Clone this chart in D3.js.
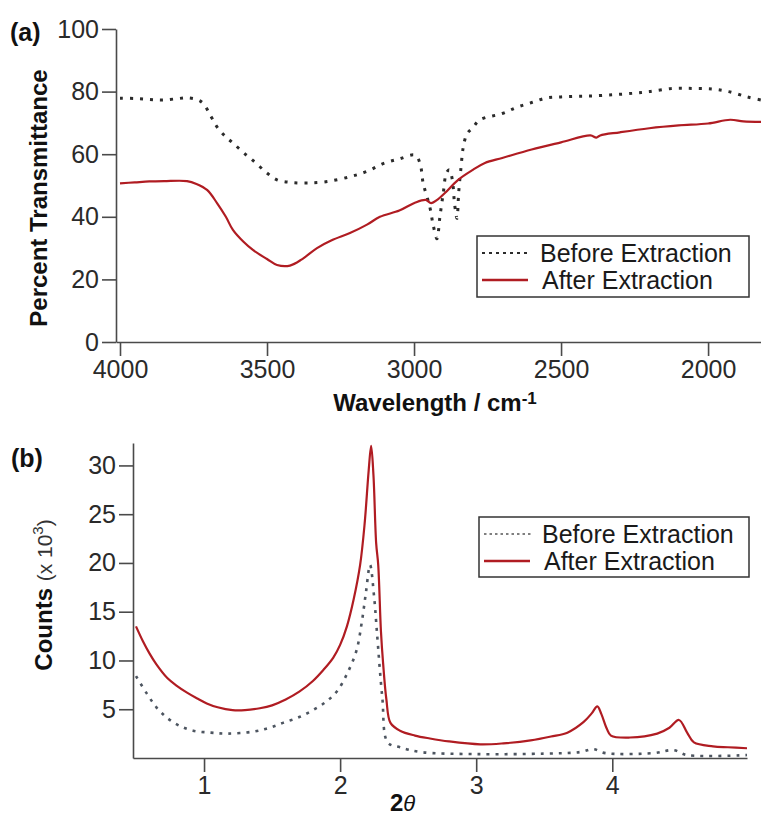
<!DOCTYPE html>
<html>
<head>
<meta charset="utf-8">
<script src="https://cdn.jsdelivr.net/npm/d3@7"></script>
<style>
  body { margin: 0; background: #fff; }
  svg { display: block; font-family: "Liberation Sans", Arial, sans-serif; }
  .tick text { fill: #2a2a2a; }
</style>
</head>
<body>
<div class="canvas"></div>
<script>
// panel (a) - IR spectra
const irWaveBefore = [4000,3950,3900,3854,3800,3772,3740,3718,3690,3670,3640,3616,3580,3548,3500,3466,3420,3364,3300,3218,3160,3105,3050,2997,2980,2969,2946,2935,2922,2912,2900,2890,2880,2870,2862,2854,2848,2840,2833,2820,2800,2776,2700,2650,2600,2548,2500,2450,2400,2323,2250,2200,2119,2050,1983,1930,1867,1820];
const irBefore = [77.9,77.8,77.5,77.3,77.8,78,77.5,76.3,72,68.7,65.5,63.6,60.5,58,54,51.8,51,50.8,51.2,52.8,54.5,57,58.5,59.7,57.2,50.8,43,37.4,33,40,48,54,55,52,44,39.5,48,56,62,66.5,68.5,71,73,75,76.5,78,78.3,78.5,78.6,79,79.5,80,81,81,80.8,80,78.3,77.3];
const irWaveAfter = [4000,3950,3900,3850,3772,3740,3704,3670,3640,3616,3580,3548,3500,3466,3422,3380,3330,3280,3218,3160,3116,3050,2997,2960,2942,2920,2895,2850,2800,2759,2700,2600,2500,2400,2380,2367,2300,2200,2100,2000,1925,1880,1820];
const irAfter = [50.7,51,51.3,51.4,51.4,50.5,48.6,44.4,40,35.8,32,29.4,26.5,24.6,24.4,26.5,30,32.5,34.8,37.5,40,42,44.5,45.4,44.4,45.5,47.6,51.8,55,57.2,58.8,61.5,63.8,66,65.3,66,67,68.3,69.2,69.8,71,70.5,70.3];
const irTicksX = [4000,3500,3000,2500,2000];
const irTicksY = [0,20,40,60,80,100];

// panel (b) - XRD
const xrdThetaBefore = [0.5,0.58,0.65,0.73,0.82,0.92,1.05,1.17,1.36,1.48,1.58,1.7,1.8,1.9,1.98,2.05,2.12,2.16,2.19,2.22,2.25,2.27,2.31,2.35,2.44,2.6,3.0,3.5,3.76,3.86,3.95,4.3,4.45,4.55,4.99];
const xrdBefore = [8.4,6.6,5.2,4.1,3.3,2.8,2.6,2.5,2.7,3.1,3.6,4.2,4.9,5.8,6.9,8.6,11.0,14,17,19.8,16.5,13,6.2,1.6,1.1,0.6,0.4,0.45,0.6,0.9,0.5,0.5,0.8,0.3,0.3];
const xrdThetaAfter = [0.5,0.55,0.6,0.65,0.73,0.8,0.875,0.95,1.02,1.1,1.21,1.3,1.41,1.5,1.6,1.7,1.8,1.875,1.95,2.0,2.05,2.1,2.147,2.18,2.21,2.228,2.245,2.265,2.28,2.3,2.316,2.34,2.37,2.44,2.55,2.66,2.8,3.03,3.2,3.4,3.55,3.67,3.79,3.85,3.89,3.92,3.96,3.99,4.13,4.33,4.42,4.49,4.55,4.6,4.74,4.85,4.99];
const xrdAfter = [13.5,12,10.7,9.6,8.2,7.4,6.7,6.1,5.6,5.2,4.9,4.9,5.1,5.4,6.0,6.8,7.9,9.0,10.3,11.6,13.5,16.3,19.8,24,29.5,32,29,22,19.8,13,9.7,6,3.6,2.8,2.3,2.0,1.7,1.4,1.5,1.8,2.2,2.6,3.7,4.6,5.3,4.5,3.0,2.3,2.1,2.5,3.1,3.9,2.6,1.6,1.2,1.1,1.0];
const xrdTicksX = [1,2,3,4];
const xrdTicksY = [5,10,15,20,25,30];

const seriesNames = ['Before Extraction', 'After Extraction'];

const svg = d3.select('.canvas')
  .append('svg')
    .attr('width', 761)
    .attr('height', 816);

const axisColor = '#4a4a4a';
const redColor = '#b01c22';

function styleAxis(g) {
  g.select('.domain').attr('stroke', axisColor).attr('stroke-width', 1.6);
  g.selectAll('.tick line').attr('stroke', axisColor).attr('stroke-width', 1.6);
  g.selectAll('.tick text').attr('font-size', 25).attr('font-family', '"Liberation Sans", Arial, sans-serif');
}

// ---------- panel (a) ----------
const xA = d3.scaleLinear().domain([4013.6, 1820]).range([116, 761]);
const yA = d3.scaleLinear().domain([0, 100]).range([342, 29]);

svg.append('g')
  .attr('transform', 'translate(0,342)')
  .call(d3.axisBottom(xA).tickValues(irTicksX).tickFormat(d3.format('d')).tickSize(14).tickPadding(4).tickSizeOuter(0))
  .call(styleAxis);

svg.append('g')
  .attr('transform', 'translate(116,0)')
  .call(d3.axisLeft(yA).tickValues(irTicksY).tickSize(14).tickPadding(3).tickSizeOuter(0))
  .call(styleAxis);

svg.append('path')
  .datum(irBefore)
  .attr('d', d3.line().x((d, i) => xA(irWaveBefore[i])).y(d => yA(d)).curve(d3.curveCatmullRom))
  .attr('fill', 'none')
  .attr('stroke', '#2b2b2b')
  .attr('stroke-width', 3)
  .attr('stroke-dasharray', '3,7');

svg.append('path')
  .datum(irAfter)
  .attr('d', d3.line().x((d, i) => xA(irWaveAfter[i])).y(d => yA(d)).curve(d3.curveCatmullRom))
  .attr('fill', 'none')
  .attr('stroke', redColor)
  .attr('stroke-width', 2.2);

// labels (a)
svg.append('text')
  .attr('x', 10).attr('y', 41)
  .attr('font-size', 25).attr('font-weight', 'bold').attr('fill', '#111')
  .text('(a)');

svg.append('text')
  .attr('transform', 'translate(47,198) rotate(-90)')
  .attr('text-anchor', 'middle')
  .attr('font-size', 24).attr('font-weight', 'bold').attr('fill', '#111')
  .text('Percent Transmittance');

const xlabA = svg.append('text')
  .attr('x', 435).attr('y', 411)
  .attr('text-anchor', 'middle')
  .attr('font-size', 24).attr('font-weight', 'bold').attr('fill', '#111');
xlabA.append('tspan').text('Wavelength / cm');
xlabA.append('tspan').attr('dy', -7).attr('font-size', 17).text('-1');

// legend box with two sample lines
function legend(x0, y0, w, h, dash, rowGap) {
  const g = svg.append('g').attr('transform', `translate(${x0},${y0})`);
  g.append('rect').attr('width', w).attr('height', h)
    .attr('fill', '#fff').attr('stroke', '#333').attr('stroke-width', 1.5);
  g.append('line').attr('x1', 5).attr('x2', 53).attr('y1', 17).attr('y2', 17)
    .attr('stroke', dash.color).attr('stroke-width', dash.width).attr('stroke-dasharray', dash.pattern);
  g.append('line').attr('x1', 5).attr('x2', 51).attr('y1', 17 + rowGap).attr('y2', 17 + rowGap)
    .attr('stroke', redColor).attr('stroke-width', 2.5);
  g.selectAll('text.lg').data(seriesNames).enter()
    .append('text')
      .attr('class', 'lg')
      .attr('x', (d, i) => i === 0 ? 63 : 65)
      .attr('y', (d, i) => 26 + i * rowGap)
      .attr('font-size', 25).attr('fill', '#1a1a1a')
      .text(d => d);
}
legend(477, 236, 272, 61, {color: '#2b2b2b', width: 2, pattern: '3,4'}, 27);

// ---------- panel (b) ----------
const xB = d3.scaleLinear().domain([0.478, 4.99]).range([133, 747]);
const yB = d3.scaleLinear().domain([0, 32.3]).range([758, 443]);

svg.append('g')
  .attr('transform', 'translate(0,758)')
  .call(d3.axisBottom(xB).tickValues(xrdTicksX).tickFormat(d3.format('d')).tickSize(14).tickPadding(4).tickSizeOuter(0))
  .call(styleAxis);

svg.append('g')
  .attr('transform', 'translate(133,0)')
  .call(d3.axisLeft(yB).tickValues(xrdTicksY).tickSize(14).tickPadding(3).tickSizeOuter(0))
  .call(styleAxis);

svg.append('path')
  .datum(xrdBefore)
  .attr('d', d3.line().x((d, i) => xB(xrdThetaBefore[i])).y(d => yB(d)).curve(d3.curveCatmullRom))
  .attr('fill', 'none')
  .attr('stroke', '#4d5560')
  .attr('stroke-width', 2.6)
  .attr('stroke-dasharray', '3,6');

svg.append('path')
  .datum(xrdAfter)
  .attr('d', d3.line().x((d, i) => xB(xrdThetaAfter[i])).y(d => yB(d)).curve(d3.curveCatmullRom))
  .attr('fill', 'none')
  .attr('stroke', redColor)
  .attr('stroke-width', 2.2);

// labels (b)
svg.append('text')
  .attr('x', 11).attr('y', 467)
  .attr('font-size', 25).attr('font-weight', 'bold').attr('fill', '#111')
  .text('(b)');

const ylabB = svg.append('text')
  .attr('transform', 'translate(52,595) rotate(-90)')
  .attr('text-anchor', 'middle')
  .attr('fill', '#111');
ylabB.append('tspan').attr('font-size', 24).attr('font-weight', 'bold').text('Counts ');
ylabB.append('tspan').attr('font-size', 21).attr('fill', '#333').text('(x 10');
ylabB.append('tspan').attr('font-size', 15).attr('fill', '#333').attr('dy', -9).text('3');
ylabB.append('tspan').attr('font-size', 21).attr('fill', '#333').attr('dy', 9).text(')');

const xlabB = svg.append('text')
  .attr('x', 390).attr('y', 811)
  .attr('fill', '#111');
xlabB.append('tspan').attr('font-size', 24).attr('font-weight', 'bold').text('2');
xlabB.append('tspan').attr('font-size', 22).attr('font-style', 'italic').text('θ');

legend(479, 517, 270, 60, {color: '#555', width: 1.5, pattern: '2.5,3'}, 27);
</script>
</body>
</html>
